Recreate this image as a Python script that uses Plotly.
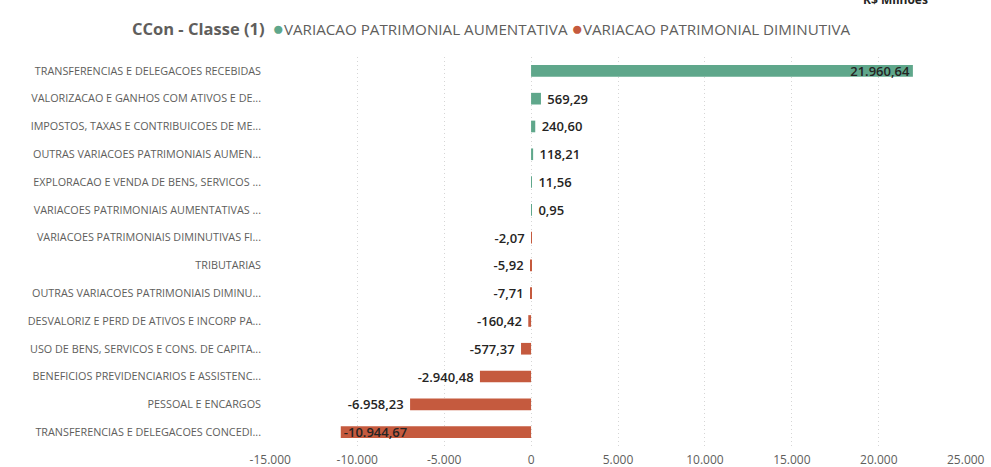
import plotly.graph_objects as go

# Categories (top to bottom) and values in R$ millions
cat_aumentativa = [
    "TRANSFERENCIAS E DELEGACOES RECEBIDAS",
    "VALORIZACAO E GANHOS COM ATIVOS E DE...",
    "IMPOSTOS, TAXAS E CONTRIBUICOES DE ME...",
    "OUTRAS VARIACOES PATRIMONIAIS AUMEN...",
    "EXPLORACAO E VENDA DE BENS, SERVICOS ...",
    "VARIACOES PATRIMONIAIS AUMENTATIVAS ...",
]
val_aumentativa = [21960.64, 569.29, 240.60, 118.21, 11.56, 0.95]

cat_diminutiva = [
    "VARIACOES PATRIMONIAIS DIMINUTIVAS FI...",
    "TRIBUTARIAS",
    "OUTRAS VARIACOES PATRIMONIAIS DIMINU...",
    "DESVALORIZ E PERD DE ATIVOS E INCORP PA...",
    "USO DE BENS, SERVICOS E CONS. DE CAPITA...",
    "BENEFICIOS PREVIDENCIARIOS E ASSISTENC...",
    "PESSOAL E ENCARGOS",
    "TRANSFERENCIAS E DELEGACOES CONCEDI...",
]
val_diminutiva = [-2.07, -5.92, -7.71, -160.42, -577.37, -2940.48, -6958.23, -10944.67]

series_names = ["VARIACAO PATRIMONIAL AUMENTATIVA", "VARIACAO PATRIMONIAL DIMINUTIVA"]
series_colors = ["#5FA78B", "#C55A3E"]

x_ticks = [-15000, -10000, -5000, 0, 5000, 10000, 15000, 20000, 25000]

NBSP = "\u00a0"


def br_number(v, decimals=2):
    s = f"{abs(v):,.{decimals}f}".replace(",", "X").replace(".", ",").replace("X", ".")
    return ("-" if v < 0 else "") + s


def bar_labels(values, big):
    labels, positions = [], []
    for v in values:
        txt = br_number(v)
        if abs(v) >= big:
            labels.append(txt)
            positions.append("inside")
        else:
            labels.append(NBSP + txt if v > 0 else txt + NBSP)
            positions.append("outside")
    return labels, positions


label_font = dict(family="Open Sans", size=13, color="#252423", weight=600)

fig = go.Figure()
for cats, vals, name, color in [
    (cat_aumentativa, val_aumentativa, series_names[0], series_colors[0]),
    (cat_diminutiva, val_diminutiva, series_names[1], series_colors[1]),
]:
    txt, pos = bar_labels(vals, 10000)
    fig.add_trace(go.Bar(
        y=cats, x=vals, orientation="h", name=name,
        marker=dict(color=color, line=dict(width=0)),
        text=txt, textposition=pos, insidetextanchor="end",
        textfont=label_font, insidetextfont=label_font, outsidetextfont=label_font,
        cliponaxis=False, showlegend=False,
    ))

all_cats = cat_aumentativa + cat_diminutiva

fig.update_layout(
    width=991, height=467,
    margin=dict(l=270, r=25, t=57, b=21, autoexpand=False),
    paper_bgcolor="white", plot_bgcolor="white",
    barmode="relative", bargap=0.58,
    font=dict(family="Open Sans", color="#605E5C"),
    uniformtext=dict(mode="show", minsize=13),
)

fig.update_xaxes(
    range=[-15015, 25015], tickvals=x_ticks,
    ticktext=[br_number(t, 0) for t in x_ticks],
    showgrid=True, gridcolor="#D6D6D6", griddash="1px,3px", gridwidth=1,
    zeroline=False, showline=False, ticks="",
    tickfont=dict(family="Open Sans", size=12, color="#605E5C"),
    ticklabelstandoff=5, automargin=False,
)
fig.update_yaxes(
    categoryorder="array", categoryarray=all_cats, autorange="reversed",
    showgrid=False, zeroline=False, showline=False, ticks="",
    tickfont=dict(family="Open Sans", size=10.8, color="#605E5C"),
    ticklabelstandoff=8, automargin=False,
)

# Legend drawn as one line of styled text: bold title, then coloured dots
legend_html = (
    "<span style='font-size:16.5px'><b>CCon - Classe (1)</b></span>" + NBSP * 2 +
    f"<span style='color:{series_colors[0]};font-size:19px'>●</span>{series_names[0]} "
    f"<span style='color:{series_colors[1]};font-size:19px'>●</span>{series_names[1]}"
)
fig.add_annotation(
    text=legend_html, xref="paper", yref="paper",
    x=(130 - 270) / 696, y=(446 - 28) / 389, xanchor="left", yanchor="middle",
    showarrow=False, font=dict(family="Open Sans", size=15.2, color="#605E5C"),
)
fig.add_annotation(
    text="<b>R$ Milhões</b>", xref="paper", yref="paper",
    x=(895 - 270) / 696, y=(446 + 1) / 389, xanchor="center", yanchor="middle",
    showarrow=False, font=dict(family="Open Sans", size=12, color="#252423"),
)

fig.write_html("out.html")
